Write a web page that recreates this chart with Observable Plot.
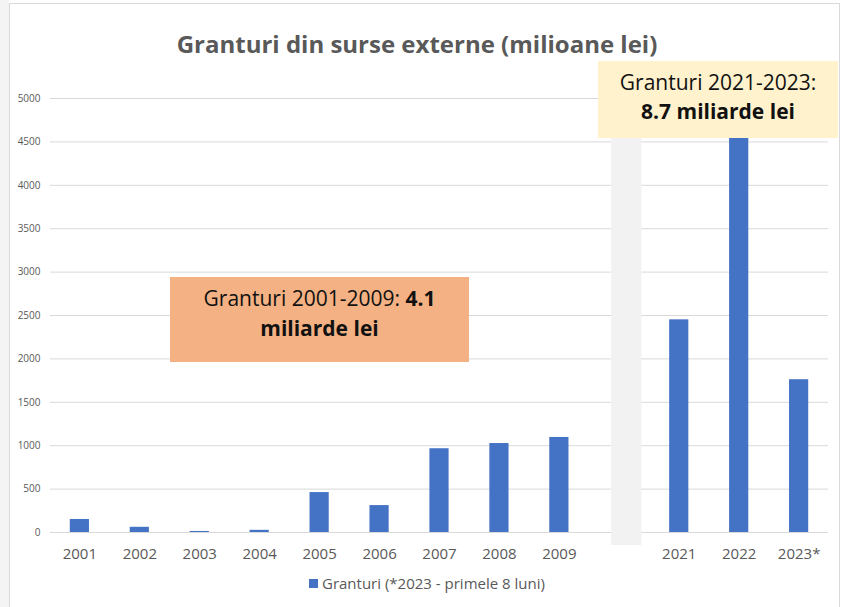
<!DOCTYPE html>
<html>
<head>
<meta charset="utf-8">
<script src="https://cdn.jsdelivr.net/npm/d3@7"></script>
<script src="https://cdn.jsdelivr.net/npm/@observablehq/plot@0.6"></script>
<style>
  html, body { margin: 0; padding: 0; background: #fff; }
  #wrap { position: relative; width: 846px; height: 607px; overflow: hidden; font-family: "Open Sans", sans-serif; }
  #strip { position: absolute; left: 0; top: 0; width: 9px; height: 607px; background: #f4f4f4; }
  #frame { position: absolute; left: 9px; top: 3px; width: 831px; height: 620px; border: 1px solid #d9d9d9; box-sizing: border-box; }
  #chart { position: absolute; left: 0; top: 0; }
  #title { position: absolute; left: 0; width: 834px; top: 27px; text-align: center; font-weight: 700; font-size: 24px; color: #595959; white-space: nowrap; }
  .box { position: absolute; text-align: center; color: #111; box-sizing: border-box; white-space: nowrap; }
  #box1 { left: 170px; top: 277px; width: 299px; height: 85px; background: #F4B183; font-size: 21px; line-height: 30px; padding-top: 6px; }
  #box2 { left: 598px; top: 61px; width: 240px; height: 77px; background: #FFF2CC; font-size: 21px; line-height: 29px; padding-top: 7px; }
  #legend { position: absolute; top: 573px; left: 309px; font-size: 15px; color: #595959; display: flex; align-items: center; white-space: nowrap; }
  #legend .sw { width: 9px; height: 9px; background: #4472C4; margin-right: 4px; }
</style>
</head>
<body>
<div id="wrap">
  <div id="strip"></div>
  <div id="frame"></div>
  <div id="chart"></div>
  <div id="title">Granturi din surse externe (milioane lei)</div>
  <div class="box" id="box1"><div>Granturi 2001-2009: <b>4.1</b></div><div><b>miliarde lei</b></div></div>
  <div class="box" id="box2"><div>Granturi 2021-2023:</div><div><b>8.7 miliarde lei</b></div></div>
  <div id="legend"><span class="sw"></span><span>Granturi (*2023 - primele 8 luni)</span></div>
</div>
<script>
// x categories (the empty one is the break between 2009 and 2021)
const categories = ["2001","2002","2003","2004","2005","2006","2007","2008","2009","","2021","2022","2023*"];
// bars
const barYears  = ["2001","2002","2003","2004","2005","2006","2007","2008","2009","2021","2022","2023*"];
const barValues = [150, 60, 12, 25, 460, 310, 965, 1025, 1095, 2450, 4550, 1760];
// break band spans (in milioane lei)
const breakCategory = [""];
const breakFrom = [-150];
const breakTo = [4700];
// y ticks
const yTicks = [0, 500, 1000, 1500, 2000, 2500, 3000, 3500, 4000, 4500, 5000];

const bars = barYears.map((year, i) => ({year, value: barValues[i]}));
const band = breakCategory.map((c, i) => ({c, y1: breakFrom[i], y2: breakTo[i]}));

const chart = Plot.plot({
  width: 846,
  height: 607,
  marginLeft: 50,
  marginRight: 18,
  marginTop: 98,
  marginBottom: 75,
  style: {fontFamily: "'Open Sans', sans-serif", background: "transparent"},
  x: {domain: categories, paddingInner: 0.68, paddingOuter: 0.33, round: false, axis: null},
  y: {domain: [0, 5000], axis: null},
  marks: [
    Plot.ruleY(yTicks, {stroke: "#d9d9d9", strokeWidth: 1}),
    Plot.barY(band, {x: "c", y1: "y1", y2: "y2", fill: "#f2f2f2", insetLeft: 2, insetRight: -13}),
    Plot.barY(bars, {x: "year", y: "value", fill: "#4472C4"}),
    Plot.axisY({ticks: yTicks, tickSize: 0, tickPadding: 10, fontSize: 10, fill: "#595959", tickFormat: d => String(d)}),
    Plot.axisX({tickSize: 0, tickPadding: 16, fontSize: 15, fill: "#595959"})
  ]
});
document.getElementById("chart").appendChild(chart);
</script>
</body>
</html>
